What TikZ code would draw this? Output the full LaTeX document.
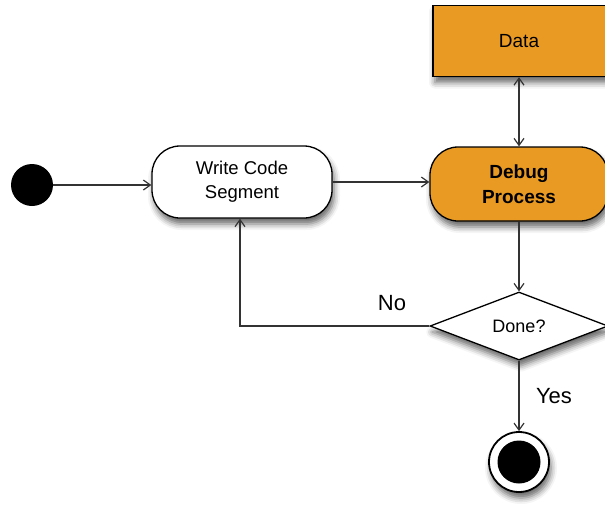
\documentclass[tikz,border=0pt]{standalone}
\usepackage{fontspec}
\setmainfont{Liberation Sans}
\usetikzlibrary{arrows.meta,shapes.geometric,shadows.blur}
\definecolor{actorange}{RGB}{233,154,35}
\tikzset{
  x=1pt,y=-1pt,
  shade/.style={blur shadow={shadow xshift=2pt,shadow yshift=-6pt,shadow blur radius=6pt,shadow opacity=60}},
  activity/.style={draw=black,line width=1.3pt,rounded corners=28pt,minimum width=180pt,minimum height=72pt,align=center,shade},
  datastore/.style={draw=black,line width=1.3pt,fill=actorange,minimum width=180pt,minimum height=71pt,shade},
  decision/.style={diamond,draw=black,line width=1.3pt,fill=white,minimum width=176pt,minimum height=68pt,aspect=2.6,inner sep=0pt,shade},
  barb/.tip={Straight Barb[length=7pt,width=10pt,line width=1.2pt]},
  flow/.style={draw=black!80,line width=1.2pt,-barb},
  lbl/.style={font=\fontsize{22}{26}\selectfont}
}
\begin{document}
\begin{tikzpicture}
\useasboundingbox (0,0) rectangle (605,504);
\clip (0,0) rectangle (605,504);
% start state
\node[circle,fill=black,minimum size=42pt,inner sep=0pt] (start) at (32,185) {};
% activities
\node[activity,fill=white,minimum width=180pt,font=\fontsize{18.5}{24}\selectfont] (write) at (242,182) {Write Code\\Segment};
\node[activity,fill=actorange,minimum width=178pt,minimum height=74pt,font=\bfseries\fontsize{19}{25}\selectfont] (debug) at (519,184) {Debug\\Process};
\node[datastore,font=\fontsize{19}{24}\selectfont] (data) at (523,41) {\hspace{-8pt}Data};
% decision
\node[decision,minimum width=178pt,minimum height=68pt,font=\fontsize{18}{22}\selectfont] (done) at (519,326) {Done?};
% final state
\node[circle,draw=black,line width=1.8pt,fill=white,minimum size=60pt,inner sep=0pt,shade] (final) at (519,462) {};
\node[circle,fill=black,minimum size=43pt,inner sep=0pt] (finalcore) at (final.center) {};
% corner of the loop-back flow
\coordinate (bend) at (240,326);
% flows
\draw[flow] (start) -- (write.west |- start);
\draw[flow] (write) -- (debug.west |- write);
\draw[flow,barb-barb] (data.south -| debug) -- (debug);
\draw[flow] (debug) -- (done);
\draw[flow] (done.west) -- (bend) -- (bend |- write.south);
\draw[flow] (done) -- (final);
% guards
\node[lbl] (no) at (392,303) {No};
\node[lbl] (yes) at (554,396) {Yes};
\end{tikzpicture}
\end{document}
